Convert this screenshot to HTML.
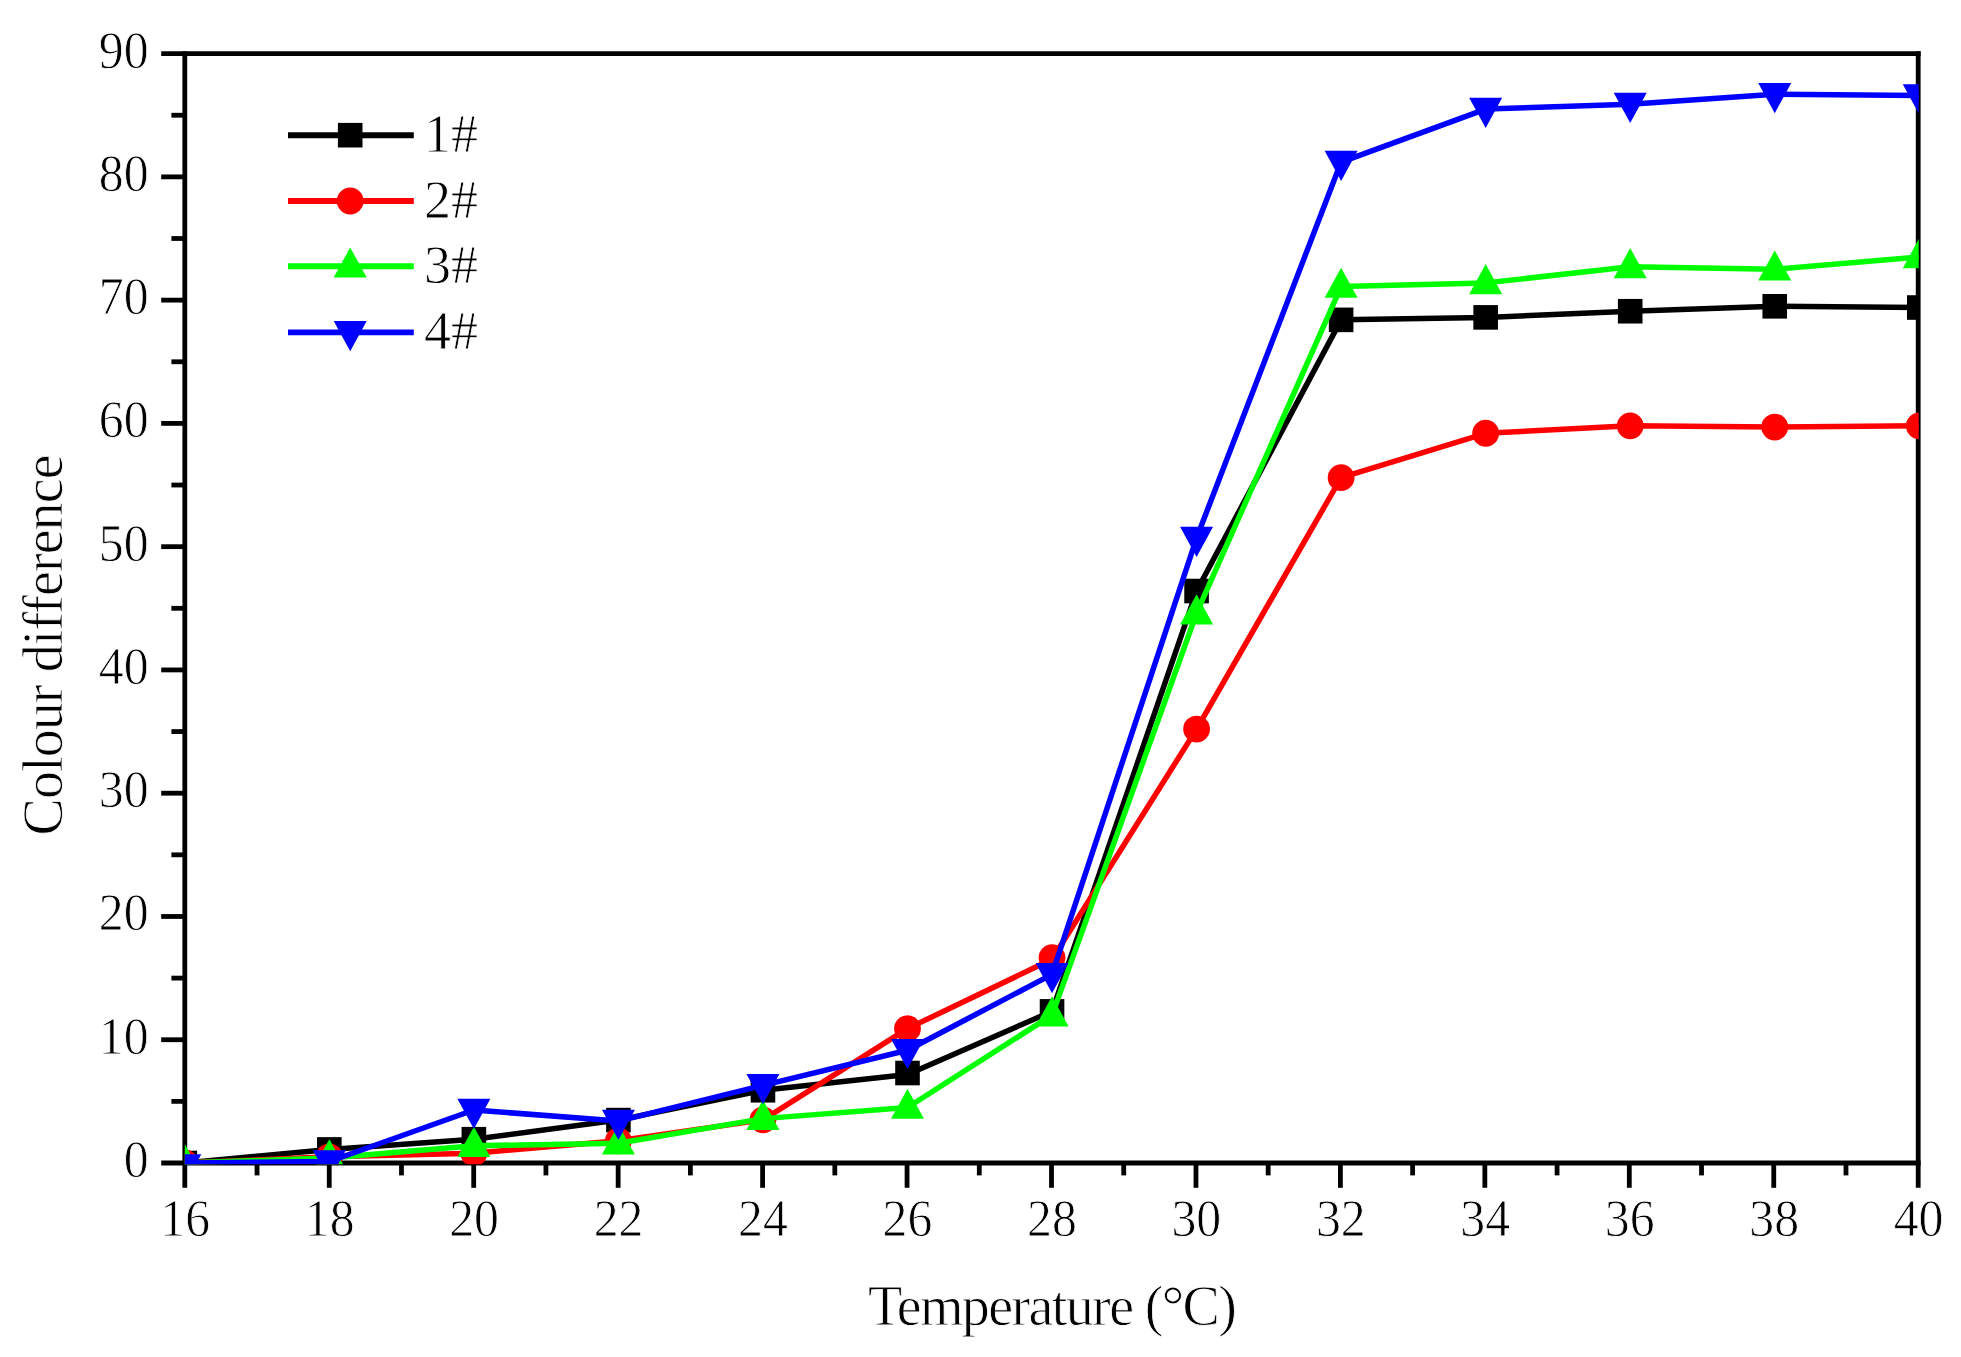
<!DOCTYPE html>
<html lang="en"><head><meta charset="utf-8"><title>Colour difference vs temperature</title>
<style>
html,body{margin:0;padding:0;background:#ffffff;}
body{width:1961px;height:1357px;overflow:hidden;}
svg{display:block;}
text{font-family:"Liberation Serif","Times New Roman",serif;fill:#000000;font-variant-ligatures:none;stroke:#ffffff;stroke-width:0.8px;}
.tk{font-size:52.5px;}
.lg{font-size:54px;}
.ti{font-size:56px;}
</style></head><body>
<svg width="1961" height="1357" viewBox="0 0 1961 1357">
<rect x="0" y="0" width="1961" height="1357" fill="#ffffff"/>
<defs><clipPath id="frame"><rect x="184.8" y="53.6" width="1733.9" height="1110.6"/></clipPath></defs>
<g stroke="#000000" stroke-width="4.8" fill="none" stroke-linecap="butt">
<line x1="161.2" y1="53.6" x2="1920.6" y2="53.6"/>
<line x1="161.2" y1="1163" x2="1920.6" y2="1163"/>
<line x1="184.8" y1="51.2" x2="184.8" y2="1187.8"/>
<line x1="1918.2" y1="51.2" x2="1918.2" y2="1187.8"/>
</g>
<g stroke="#000000" stroke-width="4.8" fill="none">
<line x1="171.4" y1="1101.37" x2="184.8" y2="1101.37"/>
<line x1="161.2" y1="1039.73" x2="184.8" y2="1039.73"/>
<line x1="171.4" y1="978.1" x2="184.8" y2="978.1"/>
<line x1="161.2" y1="916.47" x2="184.8" y2="916.47"/>
<line x1="171.4" y1="854.83" x2="184.8" y2="854.83"/>
<line x1="161.2" y1="793.2" x2="184.8" y2="793.2"/>
<line x1="171.4" y1="731.57" x2="184.8" y2="731.57"/>
<line x1="161.2" y1="669.93" x2="184.8" y2="669.93"/>
<line x1="171.4" y1="608.3" x2="184.8" y2="608.3"/>
<line x1="161.2" y1="546.67" x2="184.8" y2="546.67"/>
<line x1="171.4" y1="485.03" x2="184.8" y2="485.03"/>
<line x1="161.2" y1="423.4" x2="184.8" y2="423.4"/>
<line x1="171.4" y1="361.77" x2="184.8" y2="361.77"/>
<line x1="161.2" y1="300.13" x2="184.8" y2="300.13"/>
<line x1="171.4" y1="238.5" x2="184.8" y2="238.5"/>
<line x1="161.2" y1="176.87" x2="184.8" y2="176.87"/>
<line x1="171.4" y1="115.23" x2="184.8" y2="115.23"/>
<line x1="257.03" y1="1163" x2="257.03" y2="1175.4"/>
<line x1="329.25" y1="1163" x2="329.25" y2="1187.8"/>
<line x1="401.48" y1="1163" x2="401.48" y2="1175.4"/>
<line x1="473.7" y1="1163" x2="473.7" y2="1187.8"/>
<line x1="545.92" y1="1163" x2="545.92" y2="1175.4"/>
<line x1="618.15" y1="1163" x2="618.15" y2="1187.8"/>
<line x1="690.38" y1="1163" x2="690.38" y2="1175.4"/>
<line x1="762.6" y1="1163" x2="762.6" y2="1187.8"/>
<line x1="834.83" y1="1163" x2="834.83" y2="1175.4"/>
<line x1="907.05" y1="1163" x2="907.05" y2="1187.8"/>
<line x1="979.28" y1="1163" x2="979.28" y2="1175.4"/>
<line x1="1051.5" y1="1163" x2="1051.5" y2="1187.8"/>
<line x1="1123.73" y1="1163" x2="1123.73" y2="1175.4"/>
<line x1="1195.95" y1="1163" x2="1195.95" y2="1187.8"/>
<line x1="1268.17" y1="1163" x2="1268.17" y2="1175.4"/>
<line x1="1340.4" y1="1163" x2="1340.4" y2="1187.8"/>
<line x1="1412.62" y1="1163" x2="1412.62" y2="1175.4"/>
<line x1="1484.85" y1="1163" x2="1484.85" y2="1187.8"/>
<line x1="1557.07" y1="1163" x2="1557.07" y2="1175.4"/>
<line x1="1629.3" y1="1163" x2="1629.3" y2="1187.8"/>
<line x1="1701.53" y1="1163" x2="1701.53" y2="1175.4"/>
<line x1="1773.75" y1="1163" x2="1773.75" y2="1187.8"/>
<line x1="1845.98" y1="1163" x2="1845.98" y2="1175.4"/>
</g>
<g class="tk" text-anchor="end">
<text x="148.6" y="1177" textLength="24.9" lengthAdjust="spacingAndGlyphs">0</text>
<text x="148.6" y="1053.73" textLength="49.8" lengthAdjust="spacingAndGlyphs">10</text>
<text x="148.6" y="930.47" textLength="49.8" lengthAdjust="spacingAndGlyphs">20</text>
<text x="148.6" y="807.2" textLength="49.8" lengthAdjust="spacingAndGlyphs">30</text>
<text x="148.6" y="683.93" textLength="49.8" lengthAdjust="spacingAndGlyphs">40</text>
<text x="148.6" y="560.67" textLength="49.8" lengthAdjust="spacingAndGlyphs">50</text>
<text x="148.6" y="437.4" textLength="49.8" lengthAdjust="spacingAndGlyphs">60</text>
<text x="148.6" y="314.13" textLength="49.8" lengthAdjust="spacingAndGlyphs">70</text>
<text x="148.6" y="190.87" textLength="49.8" lengthAdjust="spacingAndGlyphs">80</text>
<text x="148.6" y="67.6" textLength="49.8" lengthAdjust="spacingAndGlyphs">90</text>
</g>
<g class="tk" text-anchor="middle">
<text x="185.2" y="1235.6" textLength="49.8" lengthAdjust="spacingAndGlyphs">16</text>
<text x="329.65" y="1235.6" textLength="49.8" lengthAdjust="spacingAndGlyphs">18</text>
<text x="474.1" y="1235.6" textLength="49.8" lengthAdjust="spacingAndGlyphs">20</text>
<text x="618.55" y="1235.6" textLength="49.8" lengthAdjust="spacingAndGlyphs">22</text>
<text x="763" y="1235.6" textLength="49.8" lengthAdjust="spacingAndGlyphs">24</text>
<text x="907.45" y="1235.6" textLength="49.8" lengthAdjust="spacingAndGlyphs">26</text>
<text x="1051.9" y="1235.6" textLength="49.8" lengthAdjust="spacingAndGlyphs">28</text>
<text x="1196.35" y="1235.6" textLength="49.8" lengthAdjust="spacingAndGlyphs">30</text>
<text x="1340.8" y="1235.6" textLength="49.8" lengthAdjust="spacingAndGlyphs">32</text>
<text x="1485.25" y="1235.6" textLength="49.8" lengthAdjust="spacingAndGlyphs">34</text>
<text x="1629.7" y="1235.6" textLength="49.8" lengthAdjust="spacingAndGlyphs">36</text>
<text x="1774.15" y="1235.6" textLength="49.8" lengthAdjust="spacingAndGlyphs">38</text>
<text x="1918.6" y="1235.6" textLength="49.8" lengthAdjust="spacingAndGlyphs">40</text>
</g>
<text class="ti" x="868" y="1325" textLength="369" lengthAdjust="spacing">Temperature (°C)</text>
<text class="ti" transform="translate(61.6 835.5) rotate(-90)" textLength="381" lengthAdjust="spacing">Colour difference</text>
<g clip-path="url(#frame)">
<polyline points="184.8,1163 329.34,1149.44 473.88,1139.21 618.42,1120.1 762.96,1090.27 907.5,1074.52 1052.04,1011.38 1196.58,591.04 1341.12,319.86 1485.66,317.39 1630.2,311.23 1774.74,306.3 1919.28,307.53" fill="none" stroke="#000000" stroke-width="5.5" stroke-linejoin="round"/>
<rect x="172.5" y="1150.7" width="24.6" height="24.6" fill="#000000"/>
<rect x="317.04" y="1137.14" width="24.6" height="24.6" fill="#000000"/>
<rect x="461.58" y="1126.91" width="24.6" height="24.6" fill="#000000"/>
<rect x="606.12" y="1107.8" width="24.6" height="24.6" fill="#000000"/>
<rect x="750.66" y="1077.97" width="24.6" height="24.6" fill="#000000"/>
<rect x="895.2" y="1060.72" width="24.6" height="24.6" fill="#000000"/>
<rect x="1039.74" y="999.08" width="24.6" height="24.6" fill="#000000"/>
<rect x="1184.28" y="578.74" width="24.6" height="24.6" fill="#000000"/>
<rect x="1328.82" y="307.56" width="24.6" height="24.6" fill="#000000"/>
<rect x="1473.36" y="305.09" width="24.6" height="24.6" fill="#000000"/>
<rect x="1617.9" y="298.93" width="24.6" height="24.6" fill="#000000"/>
<rect x="1762.44" y="294" width="24.6" height="24.6" fill="#000000"/>
<rect x="1906.98" y="295.23" width="24.6" height="24.6" fill="#000000"/>
<polyline points="184.8,1163 329.34,1156.84 473.88,1153.14 618.42,1140.81 762.96,1119.86 907.5,1028.64 1052.04,959.26 1196.58,729.1 1341.12,477.64 1485.66,433.26 1630.2,425.87 1774.74,427.1 1919.28,425.87" fill="none" stroke="#ff0000" stroke-width="5.5" stroke-linejoin="round"/>
<circle cx="184.8" cy="1163" r="13.4" fill="#ff0000"/>
<circle cx="329.34" cy="1156.84" r="13.4" fill="#ff0000"/>
<circle cx="473.88" cy="1153.14" r="13.4" fill="#ff0000"/>
<circle cx="618.42" cy="1140.81" r="13.4" fill="#ff0000"/>
<circle cx="762.96" cy="1119.86" r="13.4" fill="#ff0000"/>
<circle cx="907.5" cy="1028.64" r="13.4" fill="#ff0000"/>
<circle cx="1052.04" cy="957.76" r="13.4" fill="#ff0000"/>
<circle cx="1196.58" cy="729.1" r="13.4" fill="#ff0000"/>
<circle cx="1341.12" cy="477.64" r="13.4" fill="#ff0000"/>
<circle cx="1485.66" cy="433.26" r="13.4" fill="#ff0000"/>
<circle cx="1630.2" cy="425.87" r="13.4" fill="#ff0000"/>
<circle cx="1774.74" cy="427.1" r="13.4" fill="#ff0000"/>
<circle cx="1919.28" cy="425.87" r="13.4" fill="#ff0000"/>
<polyline points="184.8,1163 329.34,1158.07 473.88,1145.74 618.42,1143.28 762.96,1118.62 907.5,1107.53 1052.04,1015.08 1196.58,613.23 1341.12,286.57 1485.66,282.88 1630.2,266.85 1774.74,269.32 1919.28,256.99" fill="none" stroke="#00ff00" stroke-width="5.5" stroke-linejoin="round"/>
<polygon points="184.8,1144.1 168.3,1174.3 201.3,1174.3" fill="#00ff00"/>
<polygon points="329.34,1139.17 312.84,1169.37 345.84,1169.37" fill="#00ff00"/>
<polygon points="473.88,1126.84 457.38,1157.04 490.38,1157.04" fill="#00ff00"/>
<polygon points="618.42,1124.38 601.92,1154.58 634.92,1154.58" fill="#00ff00"/>
<polygon points="762.96,1099.72 746.46,1129.92 779.46,1129.92" fill="#00ff00"/>
<polygon points="907.5,1088.63 891,1118.83 924,1118.83" fill="#00ff00"/>
<polygon points="1052.04,996.18 1035.54,1026.38 1068.54,1026.38" fill="#00ff00"/>
<polygon points="1196.58,594.33 1180.08,624.53 1213.08,624.53" fill="#00ff00"/>
<polygon points="1341.12,267.67 1324.62,297.87 1357.62,297.87" fill="#00ff00"/>
<polygon points="1485.66,263.98 1469.16,294.18 1502.16,294.18" fill="#00ff00"/>
<polygon points="1630.2,247.95 1613.7,278.15 1646.7,278.15" fill="#00ff00"/>
<polygon points="1774.74,250.42 1758.24,280.62 1791.24,280.62" fill="#00ff00"/>
<polygon points="1919.28,238.09 1902.78,268.29 1935.78,268.29" fill="#00ff00"/>
<polyline points="184.8,1162.97 329.34,1161.52 473.88,1110 618.42,1121.09 762.96,1085.34 907.5,1050.21 1052.04,974.4 1196.58,538.04 1341.12,162.07 1485.66,109.07 1630.2,104.14 1774.74,94.28 1919.28,95.51" fill="none" stroke="#0000ff" stroke-width="5.5" stroke-linejoin="round"/>
<polygon points="184.8,1184.37 168.3,1154.17 201.3,1154.17" fill="#0000ff"/>
<polygon points="329.34,1180.42 312.84,1150.22 345.84,1150.22" fill="#0000ff"/>
<polygon points="473.88,1128.9 457.38,1098.7 490.38,1098.7" fill="#0000ff"/>
<polygon points="618.42,1139.99 601.92,1109.79 634.92,1109.79" fill="#0000ff"/>
<polygon points="762.96,1104.24 746.46,1074.04 779.46,1074.04" fill="#0000ff"/>
<polygon points="907.5,1069.11 891,1038.91 924,1038.91" fill="#0000ff"/>
<polygon points="1052.04,993.3 1035.54,963.1 1068.54,963.1" fill="#0000ff"/>
<polygon points="1196.58,556.94 1180.08,526.74 1213.08,526.74" fill="#0000ff"/>
<polygon points="1341.12,180.97 1324.62,150.77 1357.62,150.77" fill="#0000ff"/>
<polygon points="1485.66,127.97 1469.16,97.77 1502.16,97.77" fill="#0000ff"/>
<polygon points="1630.2,123.04 1613.7,92.84 1646.7,92.84" fill="#0000ff"/>
<polygon points="1774.74,113.18 1758.24,82.98 1791.24,82.98" fill="#0000ff"/>
<polygon points="1919.28,114.41 1902.78,84.21 1935.78,84.21" fill="#0000ff"/>
</g>
<line x1="288" y1="135.2" x2="413.8" y2="135.2" stroke="#000000" stroke-width="5.9"/>
<rect x="337.9" y="122.9" width="24.6" height="24.6" fill="#000000"/>
<text class="lg" x="424" y="151.8">1#</text>
<line x1="288" y1="201" x2="413.8" y2="201" stroke="#ff0000" stroke-width="5.9"/>
<circle cx="350.2" cy="201" r="13.4" fill="#ff0000"/>
<text class="lg" x="424" y="217.6">2#</text>
<line x1="288" y1="266.3" x2="413.8" y2="266.3" stroke="#00ff00" stroke-width="5.9"/>
<polygon points="350.2,247.4 333.7,277.6 366.7,277.6" fill="#00ff00"/>
<text class="lg" x="424" y="282.9">3#</text>
<line x1="288" y1="332.4" x2="413.8" y2="332.4" stroke="#0000ff" stroke-width="5.9"/>
<polygon points="350.2,351.3 333.7,321.1 366.7,321.1" fill="#0000ff"/>
<text class="lg" x="424" y="349">4#</text>
</svg>
</body></html>
